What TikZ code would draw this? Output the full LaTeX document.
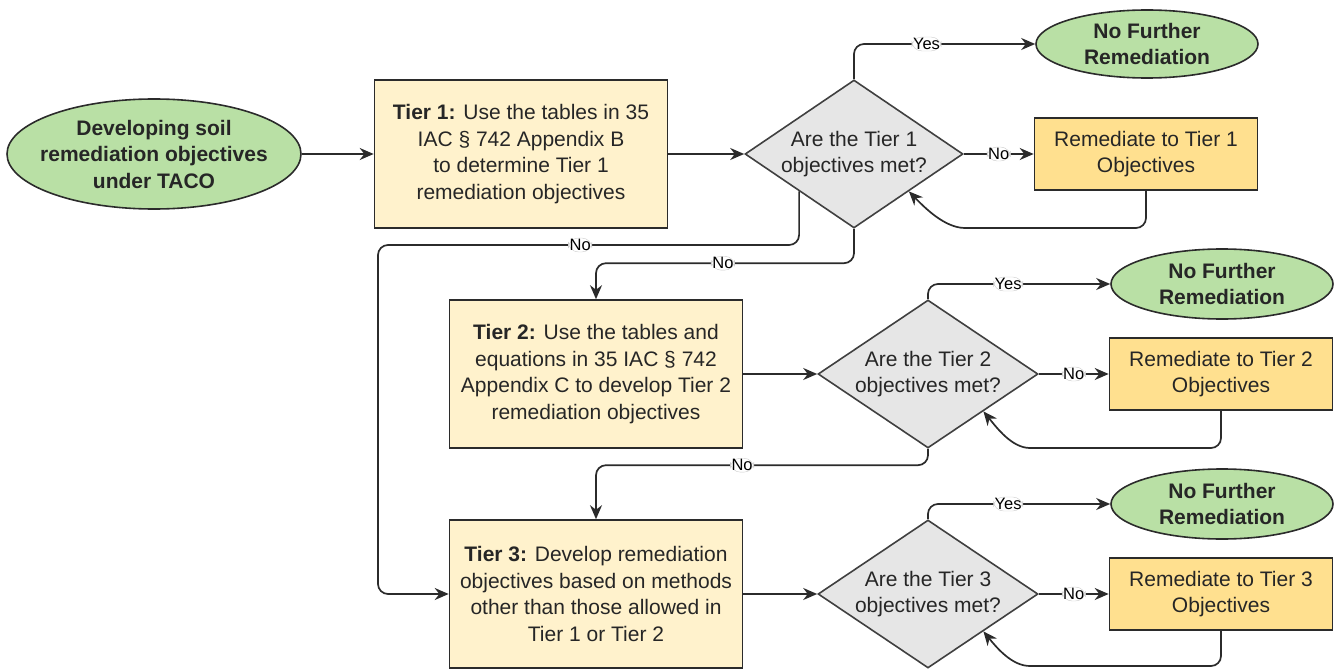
\documentclass[tikz,border=0pt]{standalone}
\usepackage{fontspec}
\setmainfont{Liberation Sans}
\usetikzlibrary{shapes.geometric,arrows.meta,calc}
\definecolor{grn}{HTML}{B9E0A5}
\definecolor{tierfill}{HTML}{FFF2CC}
\definecolor{remfill}{HTML}{FFE08F}
\definecolor{diafill}{HTML}{E6E6E6}
\definecolor{edgecol}{HTML}{2B2B2B}
\begin{document}
\begin{tikzpicture}[x=1pt,y=-1pt,
  base/.style={draw=edgecol, line width=1.6pt, text=black!85, align=center, inner sep=0pt, font=\fontsize{21}{26.5}\selectfont},
  termshape/.style={base, ellipse, fill=grn},
  txt/.style={align=center, inner sep=0pt, text=black!85, font=\fontsize{21}{26.5}\selectfont\bfseries},
  tierbox/.style={base, rectangle, fill=tierfill, minimum width=293, minimum height=148},
  rembox/.style={base, rectangle, fill=remfill, minimum width=223, minimum height=72},
  dec/.style={base, diamond, fill=diafill, draw=black!75, minimum width=218, minimum height=148},
  dectxt/.style={align=center, inner sep=0pt, text=black!85, font=\fontsize{21}{26.5}\selectfont},
  arr/.style={draw=edgecol, line width=1.7pt, -{Stealth[length=14pt,width=12pt]}, rounded corners=10},
  lbl/.style={fill=white, draw=black!20, line width=0.4pt, inner sep=1.2pt, text=black, font=\fontsize{16.5}{17}\selectfont}
]
\useasboundingbox (0,0) rectangle (1334,669);

% start
\node[termshape, minimum width=294, minimum height=110] (start) at (154,154) {};
\node[txt] (starttxt) at (start) {Developing soil\\remediation objectives\\under TACO};

% tier 1 row
\node[tierbox] (t1) at (521,154) {\textbf{Tier 1:} Use the tables in 35\\IAC § 742 Appendix B\\to determine Tier 1\\remediation objectives};
\node[dec] (d1) at (854,154) {};
\node[dectxt] (d1t) at (d1) {Are the Tier 1\\objectives met?};
\node[rembox] (r1) at (1146,154) {Remediate to Tier 1\\Objectives};
\node[termshape, minimum width=222, minimum height=68] (n1) at (1147,44) {};
\node[txt] (n1t) at (n1) {No Further\\Remediation};

% tier 2 row
\node[tierbox] (t2) at (596,374) {\textbf{Tier 2:} Use the tables and\\equations in 35 IAC § 742\\Appendix C to develop Tier 2\\remediation objectives};
\node[dec, minimum width=220] (d2) at (928,374) {};
\node[dectxt] (d2t) at (d2) {Are the Tier 2\\objectives met?};
\node[rembox] (r2) at (1221,374) {Remediate to Tier 2\\Objectives};
\node[termshape, minimum width=222, minimum height=70] (n2) at (1222,284) {};
\node[txt] (n2t) at (n2) {No Further\\Remediation};

% tier 3 row
\node[tierbox] (t3) at (596,594) {\textbf{Tier 3:} Develop remediation\\objectives based on methods\\other than those allowed in\\Tier 1 or Tier 2};
\node[dec, minimum width=220] (d3) at (928,594) {};
\node[dectxt] (d3t) at (d3) {Are the Tier 3\\objectives met?};
\node[rembox] (r3) at (1221,594) {Remediate to Tier 3\\Objectives};
\node[termshape, minimum width=222, minimum height=70] (n3) at (1222,504) {};
\node[txt] (n3t) at (n3) {No Further\\Remediation};

% helper coordinates on diamond edges
\coordinate (d1r) at ($(d1.east)!0.5!(d1.south)$);
\coordinate (d1l) at ($(d1.west)!0.5!(d1.south)$);
\coordinate (d2r) at ($(d2.east)!0.5!(d2.south)$);
\coordinate (d3r) at ($(d3.east)!0.5!(d3.south)$);

% connectors
\draw[arr] (start.east) -- (t1.west);
\draw[arr] (t1.east) -- (d1.west);
\draw[arr] (d1.north) |- node[lbl, pos=0.7] {Yes} (n1.west);
\draw[arr] (d1.east) -- node[lbl] {No} (r1.west);
\draw[arr] (r1.south) |- (975,228) .. controls (945,228) and (925,208) .. (d1r);
\draw[arr] (d1l) |- node[lbl, pos=0.76] {No} (378,245) |- (t3.west);
\draw[arr] (d1.south) |- node[lbl, pos=0.754] {No} ($(t2.north)+(0,-36)$) -- (t2.north);

\draw[arr] (t2.east) -- (d2.west);
\draw[arr] (d2.north) |- node[lbl, pos=0.72] {Yes} (n2.west);
\draw[arr] (d2.east) -- node[lbl] {No} (r2.west);
\draw[arr] (r2.south) |- (1040,448) .. controls (1012,448) and (997,428) .. (d2r);
\draw[arr] (d2.south) |- node[lbl, pos=0.78] {No} ($(t3.north)+(0,-54)$) -- (t3.north);

\draw[arr] (t3.east) -- (d3.west);
\draw[arr] (d3.north) |- node[lbl, pos=0.72] {Yes} (n3.west);
\draw[arr] (d3.east) -- node[lbl] {No} (r3.west);
\draw[arr] (r3.south) |- (1040,666) .. controls (1012,666) and (997,648) .. (d3r);
\end{tikzpicture}
\end{document}
